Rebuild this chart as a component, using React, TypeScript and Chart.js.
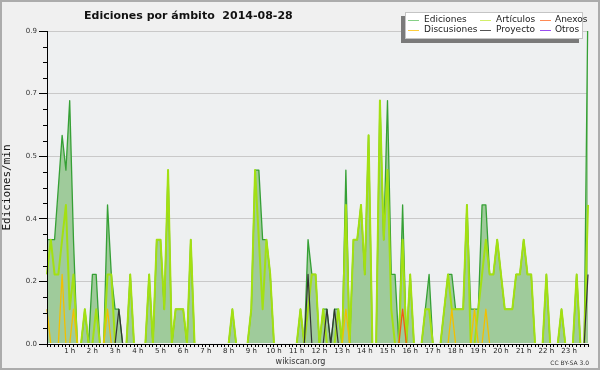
import React, { useEffect, useRef } from 'react';
import { Chart, registerables } from 'chart.js';

Chart.register(...registerables);

// 10-minute buckets, 144 per day (one row per hour)
const BUCKET_MINUTES = 10;

const ediciones = [
  0.3, 0.3, 0.3, 0.45, 0.6, 0.5, // 0 h
  0.7, 0.3, 0, 0, 0.1, 0, // 1 h
  0.2, 0.2, 0, 0, 0.4, 0.2, // 2 h
  0.1, 0.1, 0, 0, 0.2, 0, // 3 h
  0, 0, 0, 0.2, 0, 0.3, // 4 h
  0.3, 0.1, 0.5, 0, 0.1, 0.1, // 5 h
  0.1, 0, 0.3, 0, 0, 0, // 6 h
  0, 0, 0, 0, 0, 0, // 7 h
  0, 0.1, 0, 0, 0, 0, // 8 h
  0.1, 0.5, 0.5, 0.3, 0.3, 0.2, // 9 h
  0, 0, 0, 0, 0, 0, // 10 h
  0, 0.1, 0, 0.3, 0.2, 0.2, // 11 h
  0, 0.1, 0.1, 0, 0.1, 0.1, // 12 h
  0, 0.5, 0, 0.3, 0.3, 0.4, // 13 h
  0.2, 0.6, 0, 0, 0.7, 0.3, // 14 h
  0.7, 0.2, 0.2, 0, 0.4, 0, // 15 h
  0.2, 0, 0, 0, 0.1, 0.2, // 16 h
  0, 0, 0, 0.1, 0.2, 0.2, // 17 h
  0.1, 0.1, 0.1, 0.4, 0.1, 0.1, // 18 h
  0.1, 0.4, 0.4, 0.2, 0.2, 0.3, // 19 h
  0.2, 0.1, 0.1, 0.1, 0.2, 0.2, // 20 h
  0.3, 0.2, 0.2, 0, 0, 0, // 21 h
  0.2, 0, 0, 0, 0.1, 0, // 22 h
  0, 0, 0.2, 0, 0, 1.0, // 23 h
];

const articulos = [
  0.2, 0.3, 0.2, 0.2, 0.3, 0.4,
  0.1, 0.2, 0, 0, 0.1, 0,
  0, 0.1, 0, 0, 0.2, 0.2,
  0, 0, 0, 0, 0.2, 0,
  0, 0, 0, 0.2, 0, 0.3,
  0.3, 0.1, 0.5, 0, 0.1, 0.1,
  0.1, 0, 0.3, 0, 0, 0,
  0, 0, 0, 0, 0, 0,
  0, 0.1, 0, 0, 0, 0,
  0.1, 0.5, 0.3, 0.1, 0.3, 0.2,
  0, 0, 0, 0, 0, 0,
  0, 0.1, 0, 0.1, 0.2, 0.2,
  0, 0.1, 0, 0, 0, 0.1,
  0, 0.4, 0, 0.3, 0.3, 0.4,
  0.2, 0.6, 0, 0, 0.7, 0.3,
  0.5, 0.1, 0, 0, 0.3, 0,
  0.2, 0, 0, 0, 0.1, 0.1,
  0, 0, 0, 0.1, 0.2, 0.1,
  0.1, 0.1, 0.1, 0.4, 0, 0,
  0.1, 0.2, 0.3, 0.2, 0.2, 0.3,
  0.2, 0.1, 0.1, 0.1, 0.2, 0.2,
  0.3, 0.2, 0.2, 0, 0, 0,
  0.2, 0, 0, 0, 0.1, 0,
  0, 0, 0.2, 0, 0, 0.4,
];

const discusiones = [
  0.1, 0, 0, 0, 0.2, 0,
  0, 0.1, 0, 0, 0, 0,
  0, 0, 0, 0, 0.1, 0,
  0, 0, 0, 0, 0, 0,
  0, 0, 0, 0, 0, 0,
  0, 0, 0, 0, 0, 0,
  0, 0, 0, 0, 0, 0,
  0, 0, 0, 0, 0, 0,
  0, 0, 0, 0, 0, 0,
  0, 0, 0, 0, 0, 0,
  0, 0, 0, 0, 0, 0,
  0, 0, 0, 0, 0, 0,
  0, 0, 0, 0, 0, 0,
  0, 0.1, 0, 0, 0, 0,
  0, 0, 0, 0, 0, 0,
  0, 0, 0, 0, 0, 0,
  0, 0, 0, 0, 0, 0,
  0, 0, 0, 0, 0, 0.1,
  0, 0, 0, 0, 0, 0.1,
  0, 0, 0.1, 0, 0, 0,
  0, 0, 0, 0, 0, 0,
  0, 0, 0, 0, 0, 0,
  0, 0, 0, 0, 0, 0,
  0, 0, 0, 0, 0, 0,
];

const proyecto = [
  0, 0, 0, 0, 0, 0,
  0, 0, 0, 0, 0, 0,
  0, 0, 0, 0, 0, 0,
  0, 0.1, 0, 0, 0, 0,
  0, 0, 0, 0, 0, 0,
  0, 0, 0, 0, 0, 0,
  0, 0, 0, 0, 0, 0,
  0, 0, 0, 0, 0, 0,
  0, 0, 0, 0, 0, 0,
  0, 0, 0, 0, 0, 0,
  0, 0, 0, 0, 0, 0,
  0, 0, 0, 0.2, 0, 0,
  0, 0, 0.1, 0, 0.1, 0,
  0, 0, 0, 0, 0, 0,
  0, 0, 0, 0, 0, 0,
  0, 0, 0, 0, 0, 0,
  0, 0, 0, 0, 0, 0,
  0, 0, 0, 0, 0, 0,
  0, 0, 0, 0, 0, 0,
  0, 0, 0, 0, 0, 0,
  0, 0, 0, 0, 0, 0,
  0, 0, 0, 0, 0, 0,
  0, 0, 0, 0, 0, 0,
  0, 0, 0, 0, 0, 0.2,
];

const anexos = [
  0, 0, 0, 0, 0, 0,
  0, 0, 0, 0, 0, 0,
  0, 0, 0, 0, 0, 0,
  0, 0, 0, 0, 0, 0,
  0, 0, 0, 0, 0, 0,
  0, 0, 0, 0, 0, 0,
  0, 0, 0, 0, 0, 0,
  0, 0, 0, 0, 0, 0,
  0, 0, 0, 0, 0, 0,
  0, 0, 0, 0, 0, 0,
  0, 0, 0, 0, 0, 0,
  0, 0, 0, 0, 0, 0,
  0, 0, 0, 0, 0, 0,
  0, 0, 0, 0, 0, 0,
  0, 0, 0, 0, 0, 0,
  0, 0, 0, 0, 0.1, 0,
  0, 0, 0, 0, 0, 0,
  0, 0, 0, 0, 0, 0,
  0, 0, 0, 0, 0, 0,
  0, 0, 0, 0, 0, 0,
  0, 0, 0, 0, 0, 0,
  0, 0, 0, 0, 0, 0,
  0, 0, 0, 0, 0, 0,
  0, 0, 0, 0, 0, 0,
];

const otros = [
  0, 0, 0, 0, 0, 0,
  0, 0, 0, 0, 0, 0,
  0, 0, 0, 0, 0, 0,
  0, 0, 0, 0, 0, 0,
  0, 0, 0, 0, 0, 0,
  0, 0, 0, 0, 0, 0,
  0, 0, 0, 0, 0, 0,
  0, 0, 0, 0, 0, 0,
  0, 0, 0, 0, 0, 0,
  0, 0, 0, 0, 0, 0,
  0, 0, 0, 0, 0, 0,
  0, 0, 0, 0, 0, 0,
  0, 0, 0, 0, 0, 0,
  0, 0, 0, 0, 0, 0,
  0, 0, 0, 0, 0, 0,
  0, 0, 0, 0, 0, 0,
  0, 0, 0, 0, 0, 0,
  0, 0, 0, 0, 0, 0,
  0, 0, 0, 0, 0, 0,
  0, 0, 0, 0, 0, 0,
  0, 0, 0, 0, 0, 0,
  0, 0, 0, 0, 0, 0,
  0, 0, 0, 0, 0, 0,
  0, 0, 0, 0, 0, 0,
];

const hourTickLabels = [
  '1 h', '2 h', '3 h', '4 h', '5 h', '6 h', '7 h', '8 h', '9 h', '10 h', '11 h', '12 h',
  '13 h', '14 h', '15 h', '16 h', '17 h', '18 h', '19 h', '20 h', '21 h', '22 h', '23 h',
];

const chartTitle = 'Ediciones por ámbito  2014-08-28';
const yAxisTitle = 'Ediciones/min';
const footerCenter = 'wikiscan.org';
const footerRight = 'CC BY-SA 3.0';

// legend entries (row-major, 3 columns x 2 rows)
const legendNames = ['Ediciones', 'Artículos', 'Anexos', 'Discusiones', 'Proyecto', 'Otros'];
const legendColors = ['#86d086', '#d2ef6a', '#ff8a55', '#ffce3c', '#555555', '#9a4ef0'];

const FONT = '"DejaVu Sans", sans-serif';

const toPoints = (arr: number[]) => arr.map((v, i) => ({ x: i * BUCKET_MINUTES, y: v }));

const decorPlugin = {
  id: 'decor',
  beforeDraw(chart: any) {
    const { ctx, width, height, chartArea: ca } = chart;
    ctx.save();
    ctx.fillStyle = '#f0f0f0';
    ctx.fillRect(0, 0, width, height);
    ctx.fillStyle = '#eef0f1';
    ctx.fillRect(ca.left, ca.top, ca.right - ca.left, ca.bottom - ca.top);
    ctx.restore();
  },
  afterDatasetsDraw(chart: any) {
    const { ctx, chartArea: ca } = chart;
    ctx.save();
    ctx.strokeStyle = '#000';
    ctx.lineWidth = 1;
    ctx.beginPath();
    ctx.moveTo(ca.left + 0.5, ca.top);
    ctx.lineTo(ca.left + 0.5, ca.bottom + 1);
    ctx.moveTo(ca.left, ca.bottom + 0.5);
    ctx.lineTo(ca.right, ca.bottom + 0.5);
    ctx.stroke();
    ctx.restore();
  },
  afterDraw(chart: any) {
    const { ctx, width, height } = chart;
    const ys = chart.scales.y;
    ctx.save();
    // minor y ticks
    ctx.strokeStyle = '#000';
    ctx.lineWidth = 1;
    ctx.beginPath();
    ys.ticks.forEach((t: any, i: number) => {
      if (i % 4 !== 0) {
        const y = Math.round(ys.getPixelForValue(t.value)) + 0.5;
        ctx.moveTo(ys.right - 4, y);
        ctx.lineTo(ys.right, y);
      }
    });
    ctx.stroke();

    // title
    ctx.fillStyle = '#111';
    ctx.font = `bold 11px ${FONT}`;
    ctx.textBaseline = 'alphabetic';
    ctx.textAlign = 'left';
    ctx.fillText(chartTitle, 84, 19);

    // footer
    ctx.fillStyle = '#333';
    ctx.font = `8px ${FONT}`;
    ctx.textAlign = 'center';
    ctx.fillText(footerCenter, 300.5, 364);
    ctx.font = `6px ${FONT}`;
    ctx.textAlign = 'right';
    ctx.fillText(footerRight, 589, 365);

    // legend box with shadow
    const bx = 405, by = 12, bw = 178, bh = 27;
    ctx.fillStyle = '#7a7a7a';
    ctx.fillRect(bx - 4, by + 4, bw, bh);
    ctx.fillStyle = '#ffffff';
    ctx.fillRect(bx, by, bw, bh);
    ctx.strokeStyle = '#c4c4c4';
    ctx.strokeRect(bx + 0.5, by + 0.5, bw - 1, bh - 1);
    const lineX = [408, 480, 540];
    const textX = [424, 496, 555];
    const rowY = [19.5, 29.5];
    ctx.font = `9px ${FONT}`;
    ctx.textAlign = 'left';
    ctx.textBaseline = 'middle';
    legendNames.forEach((name, k) => {
      const col = k % 3;
      const row = Math.floor(k / 3);
      const y = rowY[row];
      ctx.strokeStyle = legendColors[k];
      ctx.lineWidth = 1;
      ctx.beginPath();
      ctx.moveTo(lineX[col], Math.round(y) + 0.5);
      ctx.lineTo(lineX[col] + 11, Math.round(y) + 0.5);
      ctx.stroke();
      ctx.fillStyle = '#222';
      ctx.fillText(name, textX[col], y);
    });

    // frame
    ctx.strokeStyle = '#acacac';
    ctx.lineWidth = 2;
    ctx.strokeRect(1, 1, width - 2, height - 2);
    ctx.restore();
  },
};

export default function App() {
  const ref = useRef<HTMLCanvasElement>(null);

  useEffect(() => {
    document.body.style.margin = '0';
    if (!ref.current) return;
    const common = {
      pointRadius: 0,
      pointHoverRadius: 0,
      tension: 0,
      fill: false,
      borderJoinStyle: 'round' as const,
      clip: { left: 2, right: 2, top: 0, bottom: -1 },
    };
    const chart = new Chart(ref.current, {
      type: 'line',
      data: {
        datasets: [
          { ...common, label: 'Ediciones', data: toPoints(ediciones), borderColor: '#35a035', backgroundColor: '#9fcb9b', borderWidth: 1.3, fill: 'origin', order: 6 },
          { ...common, label: 'Artículos', data: toPoints(articulos), borderColor: '#a3e012', borderWidth: 2, order: 5 },
          { ...common, label: 'Otros', data: toPoints(otros), borderColor: '#9a4ef0', borderWidth: 1, order: 4 },
          { ...common, label: 'Discusiones', data: toPoints(discusiones), borderColor: '#f2c000', borderWidth: 1.3, order: 3 },
          { ...common, label: 'Anexos', data: toPoints(anexos), borderColor: '#f05a14', borderWidth: 1.3, order: 2 },
          { ...common, label: 'Proyecto', data: toPoints(proyecto), borderColor: '#333333', borderWidth: 1.2, order: 1 },
        ] as any,
      },
      options: {
        animation: false,
        responsive: false,
        devicePixelRatio: 1,
        layout: { padding: { top: 31, right: 12, left: 0, bottom: 0 } },
        plugins: {
          legend: { display: false },
          title: { display: false },
          tooltip: { enabled: false },
        },
        events: [],
        scales: {
          x: {
            type: 'linear',
            min: 0,
            max: (ediciones.length - 1) * BUCKET_MINUTES,
            afterFit: (s: any) => { s.height = 26; },
            grid: { drawOnChartArea: false, drawTicks: true, tickLength: 3, tickColor: '#000', color: '#000' },
            border: { display: true, color: '#000', width: 1 },
            ticks: {
              stepSize: BUCKET_MINUTES,
              autoSkip: false,
              maxRotation: 0,
              minRotation: 0,
              padding: 0,
              color: '#222',
              font: { family: FONT, size: 7 },
              callback: (v: any) => {
                const n = Number(v);
                if (n % 60 === 0 && n > 0 && n < 1440) return hourTickLabels[n / 60 - 1];
                return '';
              },
            },
          },
          y: {
            min: 0,
            max: 0.9,
            afterFit: (s: any) => { s.width = 47; },
            grid: {
              color: (c: any) => (c.index % 4 === 0 && c.index > 0 ? '#c9c9c9' : 'rgba(0,0,0,0)'),
              tickColor: (c: any) => (c.index % 4 === 0 ? '#000' : 'rgba(0,0,0,0)'),
              tickLength: 8,
            },
            border: { display: true, color: '#000', width: 1 },
            ticks: {
              stepSize: 0.045,
              autoSkip: false,
              padding: 2,
              color: '#333',
              font: { family: FONT, size: 7 },
              callback: (v: any, i: number) => (i % 4 === 0 ? Number(v).toFixed(1) : ''),
            },
            title: {
              display: true,
              text: yAxisTitle,
              color: '#111',
              font: { family: '"DejaVu Sans Mono", monospace', size: 11 },
              padding: { top: 1, bottom: 0 },
            },
          },
        },
      } as any,
      plugins: [decorPlugin],
    });
    return () => chart.destroy();
  }, []);

  return (
    <canvas
      ref={ref}
      width={600}
      height={370}
      style={{ display: 'block', width: 600, height: 370 }}
    />
  );
}
